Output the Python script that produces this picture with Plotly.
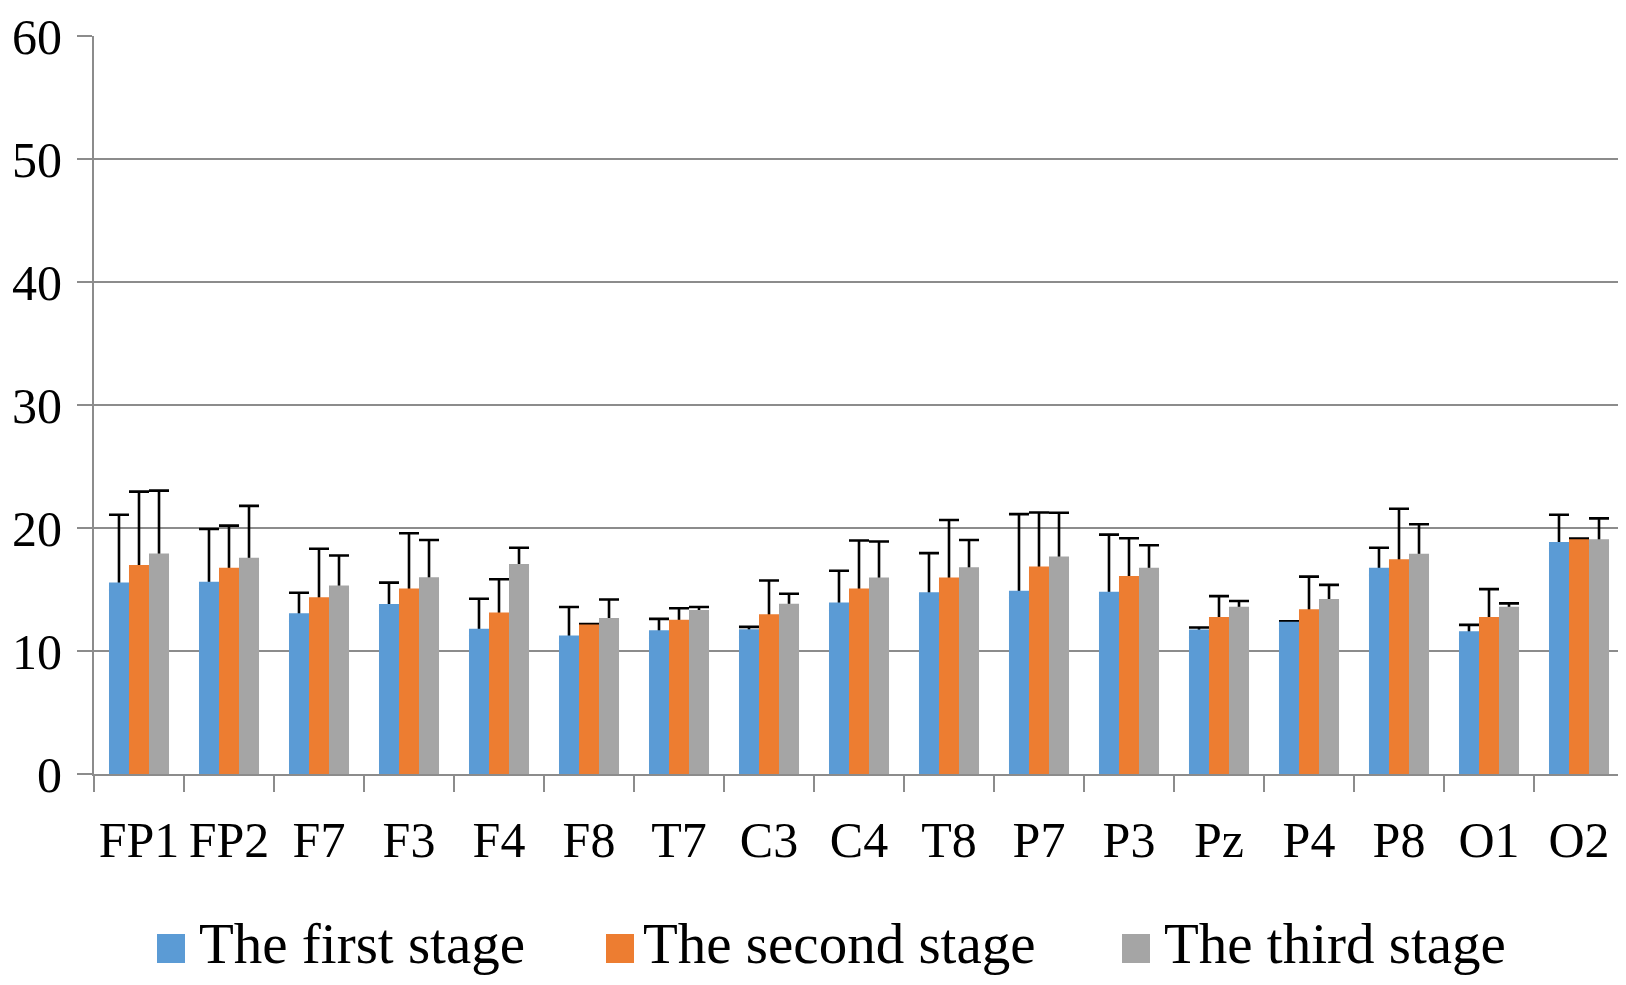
import plotly.graph_objects as go

# electrode sites
channels = ['FP1', 'FP2', 'F7', 'F3', 'F4', 'F8', 'T7', 'C3', 'C4',
            'T8', 'P7', 'P3', 'Pz', 'P4', 'P8', 'O1', 'O2']

# mean values per stage
first_stage = [15.56, 15.62, 13.06, 13.82, 11.80, 11.26, 11.69, 11.77, 13.95,
               14.78, 14.89, 14.81, 11.75, 12.37, 16.77, 11.61, 18.87]
second_stage = [17.00, 16.77, 14.38, 15.08, 13.12, 12.15, 12.55, 12.98, 15.08,
                15.97, 16.88, 16.10, 12.77, 13.39, 17.45, 12.77, 19.09]
third_stage = [17.93, 17.58, 15.32, 15.99, 17.07, 12.69, 13.33, 13.84, 15.97,
               16.80, 17.69, 16.77, 13.60, 14.22, 17.90, 13.60, 19.09]

# standard deviations (plus side only)
first_sd = [5.52, 4.30, 1.67, 1.74, 2.45, 2.32, 0.92, 0.19, 2.58,
            3.18, 6.24, 4.65, 0.16, 0.05, 1.62, 0.51, 2.21]
second_sd = [5.96, 3.42, 3.93, 4.49, 2.71, 0.05, 0.92, 2.75, 3.90,
             4.68, 4.38, 3.07, 1.69, 2.66, 4.11, 2.26, 0.05]
third_sd = [5.11, 4.22, 2.45, 3.04, 1.32, 1.50, 0.25, 0.81, 2.93,
            2.23, 3.55, 1.83, 0.46, 1.16, 2.40, 0.27, 1.69]

stage_names = ['The first stage', 'The second stage', 'The third stage']
stage_colors = ['#5B9BD5', '#ED7D31', '#A5A5A5']

y_ticks = [0, 10, 20, 30, 40, 50, 60]

FONT = 'Liberation Serif, Times New Roman, serif'
GRID = '#8C8C8C'

means = [first_stage, second_stage, third_stage]
sds = [first_sd, second_sd, third_sd]

fig = go.Figure()

# transparent bars carrying the error bars (drawn first, so the coloured
# bars hide the lower end of each error bar)
for k in range(3):
    fig.add_trace(go.Bar(
        x=channels, y=means[k],
        offsetgroup=str(k),
        marker=dict(color='rgba(0,0,0,0)', line=dict(width=0)),
        error_y=dict(type='data', array=sds[k], symmetric=False,
                     arrayminus=[0.6] * len(channels),
                     color='black', thickness=2.6, width=10),
        showlegend=False, hoverinfo='skip'
    ))

for k in range(3):
    fig.add_trace(go.Bar(
        x=channels, y=means[k],
        offsetgroup=str(k),
        name=stage_names[k],
        marker=dict(color=stage_colors[k], line=dict(width=0)),
        showlegend=False
    ))

# page body has an 8px margin, so the figure is a bit smaller than the window
OFF = 8
W, H = 1626 - OFF, 985 - OFF
L, T = 94 - OFF, 36 - OFF
R = W - (1624 - OFF)
B = H - (774 - OFF)
pw, ph = W - L - R, H - T - B


def px_x(p):
    # window pixel -> paper x
    return (p - OFF - L) / pw


def px_y(p):
    # window pixel -> paper y
    return (H - B - (p - OFF)) / ph


# legend drawn below the axis: coloured squares + labels
sq_left = [157, 606, 1122]
txt_left = [197, 641, 1162]
for k in range(3):
    fig.add_shape(type='rect', xref='paper', yref='paper',
                  x0=px_x(sq_left[k]), x1=px_x(sq_left[k] + 28),
                  y0=px_y(963), y1=px_y(934),
                  fillcolor=stage_colors[k], line=dict(width=0))
    fig.add_annotation(xref='paper', yref='paper',
                       x=px_x(txt_left[k]), y=px_y(943),
                       xanchor='left', yanchor='middle',
                       text=stage_names[k], showarrow=False,
                       font=dict(family=FONT, size=57, color='black'))

fig.update_layout(
    width=W, height=H,
    margin=dict(l=L, r=R, t=T, b=B, pad=0),
    paper_bgcolor='white', plot_bgcolor='white',
    barmode='group', bargap=0.333, bargroupgap=0,
    font=dict(family=FONT, color='black'),
    xaxis=dict(
        showline=True, linecolor=GRID, linewidth=2,
        ticks='outside', tickson='boundaries', ticklen=16,
        tickwidth=2, tickcolor=GRID, tickangle=0,
        ticklabelstandoff=21, automargin=False,
        tickfont=dict(family=FONT, size=50, color='black'),
        showgrid=False
    ),
    yaxis=dict(
        range=[0, 60], tickvals=y_ticks,
        showline=True, linecolor=GRID, linewidth=2,
        ticks='outside', ticklen=15, tickwidth=2, tickcolor=GRID,
        ticklabelstandoff=5, automargin=False,
        ticklabeloverflow='allow',
        showgrid=True, gridcolor=GRID, gridwidth=2,
        zeroline=False,
        tickfont=dict(family=FONT, size=50, color='black')
    )
)

fig.write_html('out.html')
